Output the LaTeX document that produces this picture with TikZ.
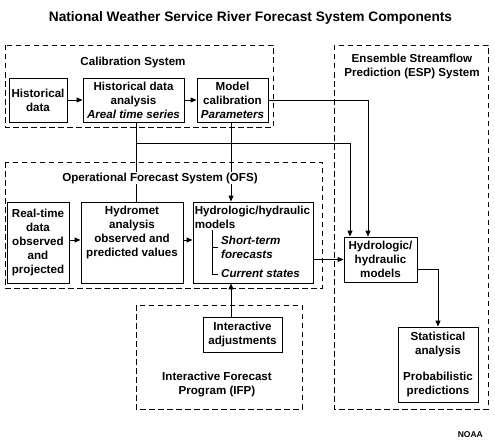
\documentclass[tikz,border=0pt]{standalone}
\usepackage{fontspec}
\setmainfont{Liberation Sans}
\usetikzlibrary{arrows.meta,calc}
\begin{document}
\begin{tikzpicture}[x=1pt,y=-1pt,
  every node/.style={font=\fontsize{11.6}{14}\selectfont\bfseries, inner sep=0pt},
  box/.style={draw, line width=0.9pt, fill=white, align=center, minimum width=#1},
  area/.style={draw, line width=0.9pt, dash pattern=on 5.5pt off 3.5pt},
  lbl/.style={fill=white, align=center, inner sep=1pt},
  conn/.style={line width=0.9pt},
  arr/.style={line width=0.9pt, -{Triangle[length=6pt,width=5pt]}}
]
\useasboundingbox (0,0) rectangle (495,444);
% title
\node (title) at (250.5,18) {\fontsize{13.7}{16}\selectfont\bfseries National Weather Service River Forecast System Components};
% dashed areas
\draw[area] (5,45) rectangle (273,127);
\draw[area] (5,162) rectangle (322,288);
\draw[area] (334,45) rectangle (488,409);
\draw[area] (136,305) rectangle (302,409);
% calibration boxes
\node[box=58pt, minimum height=44pt] (hd) at (38,100) {Historical\\data};
\node[box=101pt, minimum height=44pt] (hda) at (133.5,100) {Historical data\\analysis\\\itshape Areal time series};
\node[box=71pt, minimum height=44pt] (mc) at (232.5,100) {Model\\calibration\\\itshape Parameters};
% OFS boxes
\node[box=62pt, minimum height=81pt] (rt) at (38,242.5) {Real-time\\data\\observed\\and\\projected};
\node[box=102pt, minimum height=81pt] (hm) at (132,242.5) {};
\node[anchor=north, align=center] (hmt) at ($(hm.north)+(0,4)$) {Hydromet\\analysis\\observed and\\predicted values};
\node[box=120pt, minimum height=81pt] (hh) at (253,242.5) {};
\node[anchor=north west, align=left] (hht) at ($(hh.north west)+(2,4)$) {Hydrologic/hydraulic\\models};
\node[anchor=west, font=\fontsize{11.6}{14}\selectfont\bfseries\itshape, align=left] (st) at (221,247) {Short-term\\forecasts};
\node[anchor=west, font=\fontsize{11.6}{14}\selectfont\bfseries\itshape] (cs) at (221,274) {Current states};
\draw[line width=0.7pt] (212,230) -- (212,274) -- (218,274);
\draw[line width=0.7pt] (212,247) -- (218,247);
% ESP boxes
\node[box=73pt, minimum height=45pt] (esph) at (380.5,259.5) {Hydrologic/\\hydraulic\\models};
\node[box=80pt, minimum height=75pt] (stat) at (438,364.5) {Statistical\\analysis\\[12pt]Probabilistic\\predictions};
% IFP box
\node[box=79pt, minimum height=35pt] (ia) at (242.5,334.5) {Interactive\\adjustments};
% helper coordinates
\coordinate (cx) at (231,0);
\coordinate (j1) at (136,143);
\coordinate (ea) at (368,0);
\coordinate (eb) at (350,0);
% connectors
\draw[arr] (hd) -- (hda);
\draw[arr] (hda) -- (mc);
\draw[arr] (rt.east |- 0,240) -- (hm.west |- 0,240);
\draw[arr] (hm.east |- 0,240) -- (hh.west |- 0,240);
\draw[conn] (hda.south -| j1) -- (hm.north -| j1);
\draw[arr] (mc.south -| cx) -- (hh.north -| cx);
\draw[arr] (mc.east) -| (esph.north -| ea);
\draw[arr] (j1) -| (esph.north -| eb);
\draw[arr] (esph.west -| hh.east) -- (esph.west);
\draw[arr] ($(esph.east)+(0,9.5)$) -| (stat.north);
\draw[arr] (ia.north -| cx) -- (hh.south -| cx);
% area labels
\node[lbl] (lcal) at (133,63) {Calibration System};
\node[lbl] (lofs) at (160,178) {Operational Forecast System (OFS)};
\node[lbl] (lesp) at (412,66.5) {Ensemble Streamflow\\Prediction (ESP) System};
\node[lbl] (lifp) at (217,384.5) {Interactive Forecast\\Program (IFP)};
\node[anchor=east, font=\fontsize{8.5}{10}\selectfont\bfseries] (noaa) at (483,435) {NOAA};
\end{tikzpicture}
\end{document}
